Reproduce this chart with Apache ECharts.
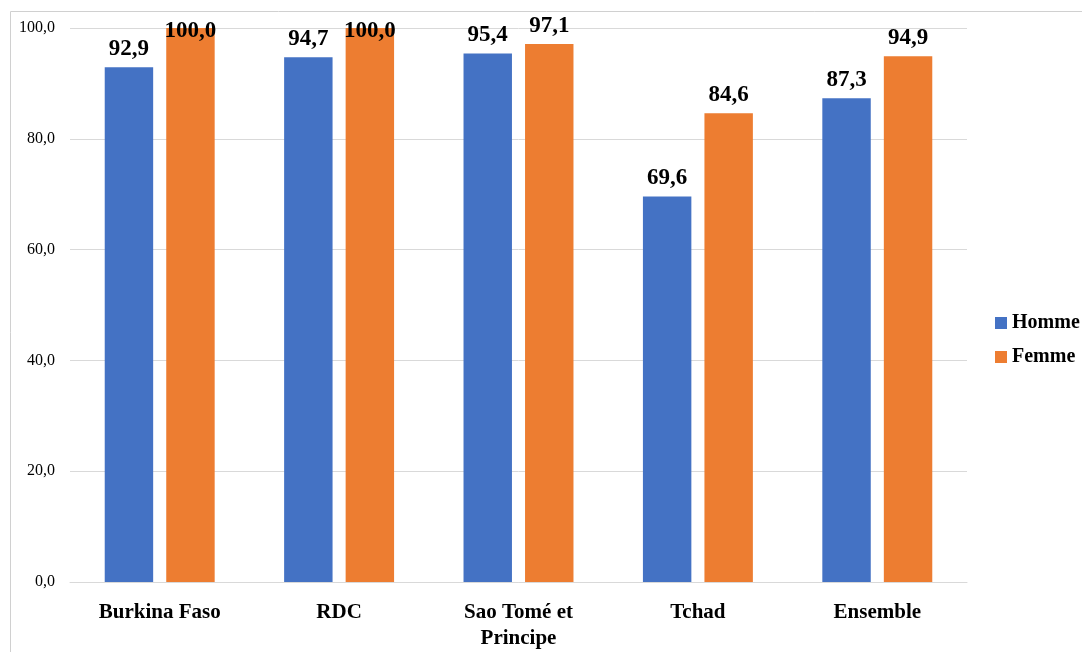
<!DOCTYPE html>
<html><head><meta charset="utf-8">
<script src="https://cdn.jsdelivr.net/npm/echarts@6/dist/echarts.min.js"></script>
<style>html,body{margin:0;padding:0;background:#fff}#c{width:1082px;height:652px}</style>
</head><body><div id="c"></div>
<script>
const categories = ['Burkina Faso', 'RDC', 'Sao Tomé et\nPrincipe', 'Tchad', 'Ensemble'];
const homme = [92.9, 94.7, 95.4, 69.6, 87.3];
const femme = [100.0, 100.0, 97.1, 84.6, 94.9];
const seriesNames = ['Homme', 'Femme'];
const FONT = '"Liberation Serif", "Times New Roman", serif';
const fmt = v => v.toFixed(1).replace('.', ',');
const chart = echarts.init(document.getElementById('c'), null, {renderer: 'canvas'});
const labelCfg = {show: true, position: 'top', distance: 7, fontFamily: FONT, fontWeight: 'bold', fontSize: 23, color: '#000', formatter: p => fmt(p.value)};
// labels that would leave the chart area are pushed down (as in the original)
const toItems = arr => arr.map(v => v >= 99 ? {value: v, label: {offset: [0, 22]}} : v);
chart.setOption({
  animation: false,
  color: ['#4472C4', '#ED7D31'],
  graphic: [{type: 'rect', shape: {x: 10.5, y: 11.5, width: 1100, height: 700}, style: {fill: 'none', stroke: '#d0d0d0', lineWidth: 1}, silent: true}],
  grid: {left: 70, right: 115, top: 28, bottom: 70},
  legend: {
    orient: 'vertical', left: 990, top: 308, data: seriesNames, icon: 'rect', itemWidth: 12, itemHeight: 12, itemGap: 14,
    textStyle: {fontFamily: FONT, fontWeight: 'bold', fontSize: 20, color: '#000'}
  },
  xAxis: {
    type: 'category', data: categories,
    axisLine: {lineStyle: {color: '#d9d9d9', width: 1}}, axisTick: {show: false},
    axisLabel: {fontFamily: FONT, fontWeight: 'bold', fontSize: 21, color: '#000', margin: 18, lineHeight: 26, interval: 0}
  },
  yAxis: {
    type: 'value', min: 0, max: 100, interval: 20,
    axisLine: {show: false}, axisTick: {show: false},
    splitLine: {lineStyle: {color: '#d9d9d9', width: 1}},
    axisLabel: {fontFamily: FONT, fontSize: 16, color: '#000', margin: 15, formatter: v => fmt(v)}
  },
  series: [
    {name: seriesNames[0], type: 'bar', data: toItems(homme), barWidth: '27%', barGap: '27%', label: labelCfg},
    {name: seriesNames[1], type: 'bar', data: toItems(femme), barWidth: '27%', barGap: '27%', label: labelCfg}
  ]
});
</script></body></html>
